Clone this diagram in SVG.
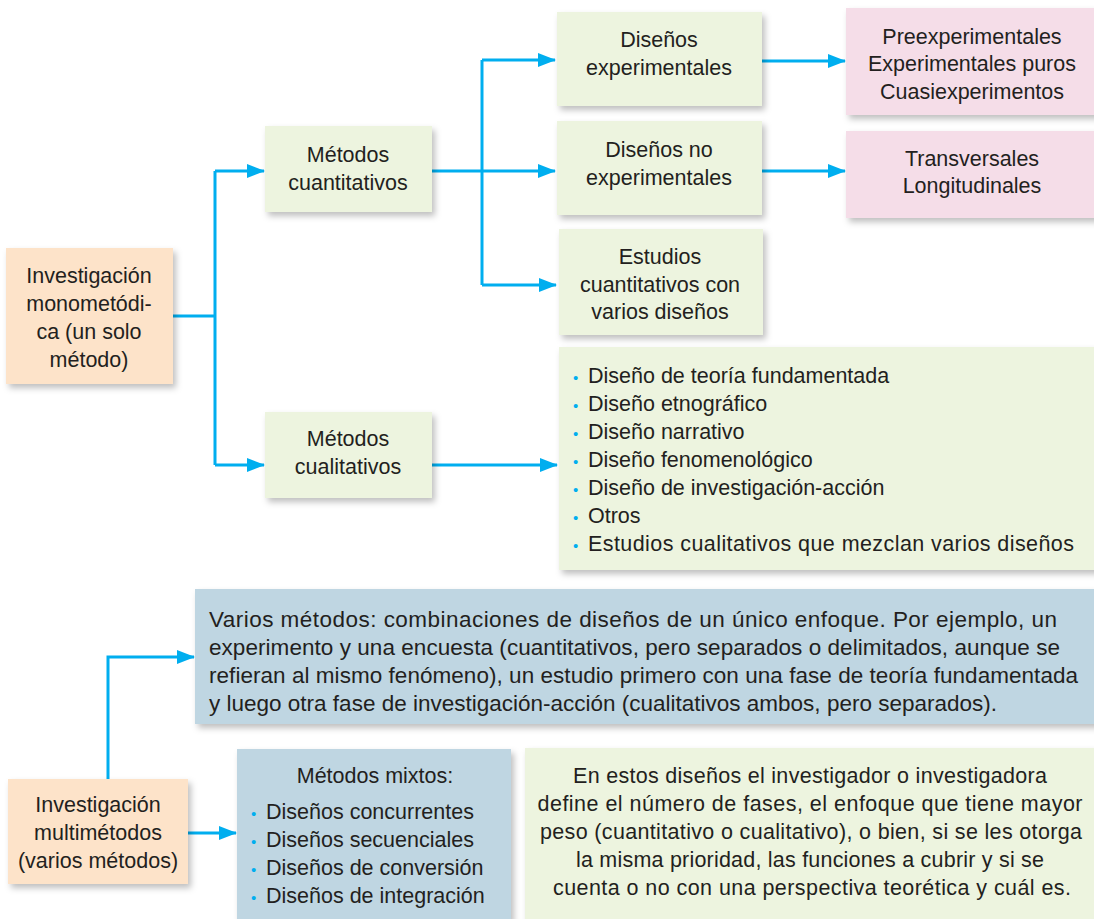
<svg xmlns="http://www.w3.org/2000/svg" width="1094" height="919" viewBox="0 0 1094 919">
<defs>
<filter id="sh" x="-10%" y="-10%" width="125%" height="130%">
<feDropShadow dx="3" dy="4" stdDeviation="3" flood-color="#000" flood-opacity="0.25"/>
</filter>
<marker id="ar" markerWidth="18" markerHeight="14" refX="17" refY="7" orient="auto" markerUnits="userSpaceOnUse">
<path d="M0,0 L18,7 L0,14 Z" fill="#00aeef"/>
</marker>
<style>
text{font-family:"Liberation Sans",Arial,sans-serif;font-size:21.5px;fill:#231f20}
.c{text-anchor:middle}
.g{fill:#edf4df}
.o{fill:#fde3c9}
.p{fill:#f5dde8}
.b{fill:#bfd6e2}
.bx{filter:url(#sh)}
.ln{fill:none;stroke:#00aeef;stroke-width:3}
.bu{fill:#00aeef;font-size:15px}
.lg{font-size:22.5px}
</style>
</defs>
<rect width="1094" height="919" fill="#fff"/>
<g id="connectors">
<polyline class="ln" points="173,316 215,316"/>
<polyline class="ln" points="215,171 215,465"/>
<polyline class="ln" points="215,171 264,171" marker-end="url(#ar)"/>
<polyline class="ln" points="215,465 264,465" marker-end="url(#ar)"/>
<polyline class="ln" points="432,171 555,171" marker-end="url(#ar)"/>
<polyline class="ln" points="482,60 482,285"/>
<polyline class="ln" points="482,60 555,60" marker-end="url(#ar)"/>
<polyline class="ln" points="482,285 556,285" marker-end="url(#ar)"/>
<polyline class="ln" points="762,61 845,61" marker-end="url(#ar)"/>
<polyline class="ln" points="762,171 845,171" marker-end="url(#ar)"/>
<polyline class="ln" points="432,465 557,465" marker-end="url(#ar)"/>
<polyline class="ln" points="108,779 108,657 194,657" marker-end="url(#ar)"/>
<polyline class="ln" points="188,833 236,833" marker-end="url(#ar)"/>
</g>
<g id="n-mono">
<rect class="o bx" x="6" y="248" width="167" height="136"/>
<text class="c" x="89" y="283">Investigación</text>
<text class="c" x="89" y="311">monometódi-</text>
<text class="c" x="89" y="339">ca (un solo</text>
<text class="c" x="89" y="367">método)</text>
</g>
<g id="n-cuanti">
<rect class="g bx" x="265" y="126" width="167" height="86"/>
<text class="c" x="348" y="162">Métodos</text>
<text class="c" x="348" y="190">cuantitativos</text>
</g>
<g id="n-cuali">
<rect class="g bx" x="265" y="412" width="167" height="86"/>
<text class="c" x="348" y="446">Métodos</text>
<text class="c" x="348" y="474">cualitativos</text>
</g>
<g id="n-exp">
<rect class="g bx" x="557" y="12" width="205" height="94"/>
<text class="c" x="659" y="47">Diseños</text>
<text class="c" x="659" y="75">experimentales</text>
</g>
<g id="n-noexp">
<rect class="g bx" x="557" y="121" width="205" height="94"/>
<text class="c" x="659" y="157">Diseños no</text>
<text class="c" x="659" y="185">experimentales</text>
</g>
<g id="n-varios">
<rect class="g bx" x="559" y="229" width="204" height="106"/>
<text class="c" x="660" y="264">Estudios</text>
<text class="c" x="660" y="292">cuantitativos con</text>
<text class="c" x="660" y="319">varios diseños</text>
</g>
<g id="n-pre">
<rect class="p bx" x="846" y="8" width="252" height="107"/>
<text class="c" x="972" y="44">Preexperimentales</text>
<text class="c" x="972" y="71">Experimentales puros</text>
<text class="c" x="972" y="99">Cuasiexperimentos</text>
</g>
<g id="n-trans">
<rect class="p bx" x="846" y="131" width="252" height="87"/>
<text class="c" x="972" y="166">Transversales</text>
<text class="c" x="972" y="193">Longitudinales</text>
</g>
<g id="n-culist">
<rect class="g bx" x="559" y="347" width="540" height="223"/>
<text y="383"><tspan class="bu" x="573">•</tspan><tspan x="588">Diseño de teoría fundamentada</tspan></text>
<text y="411"><tspan class="bu" x="573">•</tspan><tspan x="588">Diseño etnográfico</tspan></text>
<text y="439"><tspan class="bu" x="573">•</tspan><tspan x="588">Diseño narrativo</tspan></text>
<text y="467"><tspan class="bu" x="573">•</tspan><tspan x="588">Diseño fenomenológico</tspan></text>
<text y="495"><tspan class="bu" x="573">•</tspan><tspan x="588">Diseño de investigación-acción</tspan></text>
<text y="523"><tspan class="bu" x="573">•</tspan><tspan x="588">Otros</tspan></text>
<text y="551"><tspan class="bu" x="573">•</tspan><tspan x="588" textLength="486">Estudios cualitativos que mezclan varios diseños</tspan></text>
</g>
<g id="n-variosmet">
<rect class="b bx" x="195" y="589" width="903" height="135"/>
<text class="lg" x="209" y="627" textLength="848">Varios métodos: combinaciones de diseños de un único enfoque. Por ejemplo, un</text>
<text class="lg" x="209" y="655" textLength="851">experimento y una encuesta (cuantitativos, pero separados o delimitados, aunque se</text>
<text class="lg" x="209" y="683" textLength="869">refieran al mismo fenómeno), un estudio primero con una fase de teoría fundamentada</text>
<text class="lg" x="209" y="711" textLength="788">y luego otra fase de investigación-acción (cualitativos ambos, pero separados).</text>
</g>
<g id="n-multi">
<rect class="o bx" x="8" y="779" width="180" height="105"/>
<text class="c" x="98" y="812">Investigación</text>
<text class="c" x="98" y="840">multimétodos</text>
<text class="c" x="98" y="868">(varios métodos)</text>
</g>
<g id="n-mixtos">
<rect class="b bx" x="237" y="749" width="274" height="172"/>
<text class="c" x="375" y="783">Métodos mixtos:</text>
<text y="819"><tspan class="bu" x="251">•</tspan><tspan x="266">Diseños concurrentes</tspan></text>
<text y="847"><tspan class="bu" x="251">•</tspan><tspan x="266">Diseños secuenciales</tspan></text>
<text y="875"><tspan class="bu" x="251">•</tspan><tspan x="266">Diseños de conversión</tspan></text>
<text y="903"><tspan class="bu" x="251">•</tspan><tspan x="266">Diseños de integración</tspan></text>
</g>
<g id="n-desc">
<rect class="g bx" x="525" y="748" width="573" height="175"/>
<text class="c" x="810" y="783" textLength="474">En estos diseños el investigador o investigadora</text>
<text class="c" x="810" y="811" textLength="545">define el número de fases, el enfoque que tiene mayor</text>
<text class="c" x="811" y="839" textLength="542">peso (cuantitativo o cualitativo), o bien, si se les otorga</text>
<text class="c" x="810" y="867" textLength="468">la misma prioridad, las funciones a cubrir y si se</text>
<text class="c" x="812" y="895" textLength="518">cuenta o no con una perspectiva teorética y cuál es.</text>
</g>
</svg>
